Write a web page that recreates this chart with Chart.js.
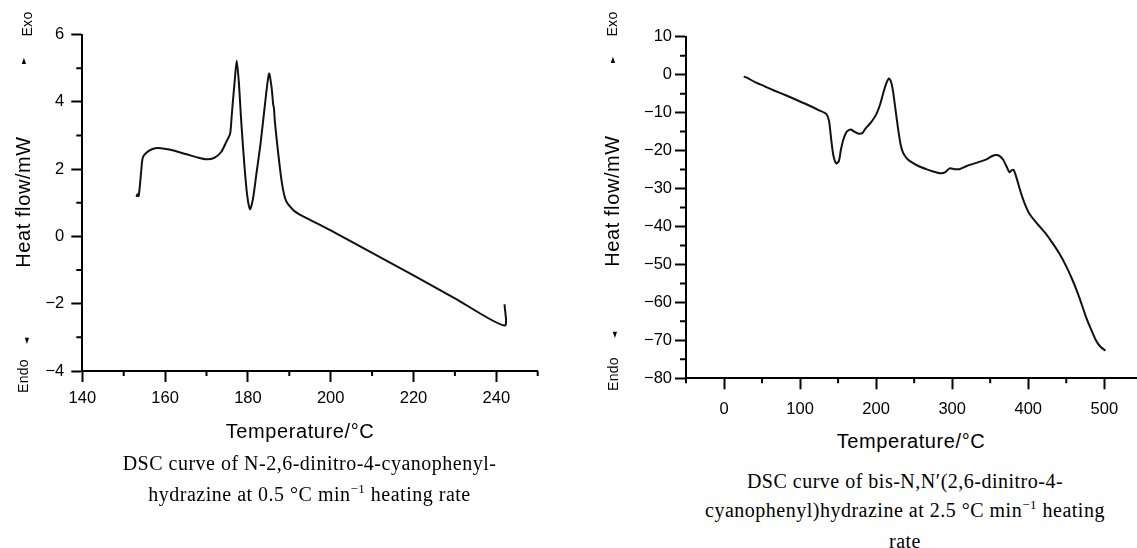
<!DOCTYPE html>
<html>
<head>
<meta charset="utf-8">
<script src="https://cdn.jsdelivr.net/npm/chart.js@4.4.0/dist/chart.umd.min.js"></script>
<style>
  body { margin: 0; background: #fff; overflow: hidden; }
  #page { position: relative; width: 1137px; height: 548px; font-family: "Liberation Sans", Arial, sans-serif; color: #000; }
  canvas { position: absolute; top: 0; }
  #cvLeft { left: 0; }
  #cvRight { left: 580px; }
  .title { position: absolute; font-size: 20px; line-height: 20px; letter-spacing: 0.6px; white-space: nowrap; }
  .small { position: absolute; font-size: 14px; line-height: 14px; letter-spacing: 0.3px; white-space: nowrap; }
  .rot { transform: translate(-50%, -50%) rotate(-90deg); }
  .htitle { transform: translateX(-50%); }
  .tri { position: absolute; font-family: "DejaVu Sans", sans-serif; font-size: 8px; line-height: 8px; transform: translate(-50%, -50%) scaleX(0.7); }
  .caption { position: absolute; font-family: "Liberation Serif", "Times New Roman", serif; font-size: 20px; text-align: center; letter-spacing: 0.5px; white-space: nowrap; }
  .sup { font-size: 13px; position: relative; top: -8px; }
</style>
</head>
<body>
<div id="page">
  <canvas id="cvLeft" width="560" height="430"></canvas>
  <canvas id="cvRight" width="557" height="430"></canvas>

  <!-- left panel texts -->
  <div class="title rot" style="left:22.5px; top:202px;">Heat flow/mW</div>
  <div class="small rot" style="left:27px; top:24px;">Exo</div>
  <div class="tri" style="left:24px; top:61px;">&#9650;</div>
  <div class="small rot" style="left:23px; top:376px;">Endo</div>
  <div class="tri" style="left:27px; top:341px;">&#9660;</div>
  <div class="title htitle" style="left:300px; top:421px;">Temperature/°C</div>
  <div class="caption" style="left:99.5px; width:420px; top:448px; line-height:31px;">
    DSC curve of N-2,6-dinitro-4-cyanophenyl-<br>hydrazine at 0.5 °C min<span class="sup">−1</span> heating rate
  </div>

  <!-- right panel texts -->
  <div class="title rot" style="left:611.7px; top:201px;">Heat flow/mW</div>
  <div class="small rot" style="left:611.7px; top:24px;">Exo</div>
  <div class="tri" style="left:613px; top:60px;">&#9650;</div>
  <div class="small rot" style="left:613px; top:374px;">Endo</div>
  <div class="tri" style="left:615px; top:335px;">&#9660;</div>
  <div class="title htitle" style="left:911px; top:431px;">Temperature/°C</div>
  <div class="caption" style="left:675px; width:460px; top:466.7px; line-height:29px;">
    DSC curve of bis-N,N′(2,6-dinitro-4-<br>cyanophenyl)hydrazine at 2.5 °C min<span class="sup">−1</span> heating<br>rate
  </div>
</div>

<script>
// ===== DATA: left panel (0.5 °C/min) =====
const tempLeft = [153.1, 153.3, 153.6, 153.9, 154.2, 154.6, 155.4, 156.8, 158.4, 161, 165.2, 168, 170,
  171.8, 173.5, 174.9, 175.7, 176.1, 176.3, 176.8, 177.3, 177.8, 178.4, 179.1, 179.8, 180.5, 181.2,
  182.1, 183.1, 184.1, 185.1, 185.7, 186.1, 186.3, 186.5, 187.2, 188.2, 189.2, 191, 193, 200, 210,
  220, 230, 242, 242];
const flowLeft = [1.17, 1.25, 1.2, 1.5, 1.9, 2.34, 2.48, 2.59, 2.63, 2.58, 2.44, 2.34, 2.29,
  2.33, 2.5, 2.84, 3.05, 3.6, 3.9, 4.6, 5.22, 4.6, 3.4, 2.2, 1.25, 0.81, 1.1,
  1.9, 2.8, 3.9, 4.84, 4.45, 3.93, 3.8, 3.43, 2.6, 1.6, 1.06, 0.78, 0.62, 0.18, -0.49,
  -1.16, -1.84, -2.65, -2.02];
const xMajorLeft = [140, 160, 180, 200, 220, 240];
const xMinorLeft = [150, 170, 190, 210, 230, 250];
const yMajorLeft = [-4, -2, 0, 2, 4, 6];
const yMinorLeft = [-3, -1, 1, 3, 5];

// ===== DATA: right panel (2.5 °C/min) =====
const tempRight = [25.9, 30, 40, 51.3, 65, 82, 97, 112.6, 125, 134.5, 138, 141.1, 144, 147.7, 151.1,
  153.5, 156.4, 160.8, 164, 167.4, 172, 176.1, 181.8, 186, 191.5, 196, 200.3, 205, 209, 213, 216.8,
  219.5, 222.1, 225, 228.6, 232, 235.2, 240, 244, 255, 265.9, 275, 285, 291, 296.6, 303, 309.7, 320,
  333.8, 345, 352, 358, 362, 366.6, 371, 375.4, 378, 380.7, 384, 390.8, 396, 401.7, 412, 423.6, 432,
  441.1, 450, 458.6, 467, 476.2, 482, 489.3, 495, 501.6];
const flowRight = [-0.5, -0.8, -1.9, -2.9, -4.1, -5.5, -6.8, -8.2, -9.4, -10.4, -12.1, -17.4, -21.5, -23.4, -22.7,
  -20, -17.4, -15.2, -14.6, -14.5, -15.1, -15.5, -15.4, -14.2, -13, -11.8, -10.4, -8, -5.1, -2.5, -1.0,
  -1.8, -4.2, -8.5, -13.9, -18.2, -20.5, -22, -22.7, -24, -24.9, -25.5, -26, -25.7, -24.7, -24.9, -24.9, -24,
  -23.1, -22.3, -21.5, -21.2, -21.4, -22.3, -24, -25.7, -25.2, -25.1, -26.8, -31.4, -34.3, -36.7, -39.3, -42.0, -44.4,
  -47.2, -50.5, -54.3, -58.6, -64.0, -66.8, -70.1, -71.7, -72.7];
const xMajorRight = [0, 100, 200, 300, 400, 500];
const xMinorRight = [-50, 50, 150, 250, 350, 450];
const yMajorRight = [-80, -70, -60, -50, -40, -30, -20, -10, 0, 10];
const yMinorRight = [-75, -65, -55, -45, -35, -25, -15, -5, 5];

// ===== minor ticks (shorter, unlabeled) =====
const minorTicks = {
  id: "minorTicks",
  afterDraw(chart, args, opts) {
    const { ctx, chartArea, scales } = chart;
    ctx.save();
    ctx.strokeStyle = "#000";
    ctx.lineWidth = 2;
    ctx.beginPath();
    opts.x.forEach((v) => {
      const px = scales.x.getPixelForValue(v);
      ctx.moveTo(px, chartArea.bottom);
      ctx.lineTo(px, chartArea.bottom + opts.lenX);
    });
    opts.y.forEach((v) => {
      const py = scales.y.getPixelForValue(v);
      ctx.moveTo(chartArea.left, py);
      ctx.lineTo(chartArea.left - opts.lenY, py);
    });
    ctx.stroke();
    ctx.restore();
  },
};

const minusSign = (v) => String(v).replace("-", "\u2212");
const tickFont = { family: "Liberation Sans", size: 16.5 };

function makeChart(id, temps, flows, c) {
  const pts = temps.map((t, i) => ({ x: t, y: flows[i] }));
  return new Chart(document.getElementById(id), {
    type: "line",
    data: {
      datasets: [{
        data: pts,
        borderColor: "#111",
        borderWidth: 2,
        pointRadius: 0,
        tension: 0.25,
        fill: false,
      }],
    },
    options: {
      responsive: false,
      animation: false,
      devicePixelRatio: 1,
      layout: { padding: c.padding },
      plugins: {
        legend: { display: false },
        tooltip: { enabled: false },
        minorTicks: { x: c.xMinor, y: c.yMinor, lenX: 5, lenY: 6 },
      },
      scales: {
        x: {
          type: "linear",
          min: c.xMin,
          max: c.xMax,
          afterBuildTicks: (s) => { s.ticks = c.xMajor.map((v) => ({ value: v })); },
          afterFit: (s) => { s.height = c.xHeight; },
          grid: { drawOnChartArea: false, drawTicks: true, tickLength: 11, tickWidth: 2, tickColor: "#000" },
          border: { display: true, color: "#000", width: 2 },
          ticks: { color: "#000", font: tickFont, padding: c.xPad, maxRotation: 0, callback: minusSign },
        },
        y: {
          type: "linear",
          min: c.yMin,
          max: c.yMax,
          afterBuildTicks: (s) => { s.ticks = c.yMajor.map((v) => ({ value: v })); },
          afterFit: (s) => { s.width = c.yWidth; },
          grid: { drawOnChartArea: false, drawTicks: true, tickLength: 11, tickWidth: 2, tickColor: "#000" },
          border: { display: true, color: "#000", width: 2 },
          ticks: { color: "#000", font: tickFont, padding: c.yPad, callback: minusSign },
        },
      },
    },
    plugins: [minorTicks],
  });
}

window.addEventListener("load", () => {
  makeChart("cvLeft", tempLeft, flowLeft, {
    xMin: 140, xMax: 250, yMin: -4, yMax: 6,
    xMajor: xMajorLeft, xMinor: xMinorLeft, yMajor: yMajorLeft, yMinor: yMinorLeft,
    padding: { left: 0, top: 34.5, right: 22.3, bottom: 0 },
    yWidth: 82.3, xHeight: 59, xPad: 7, yPad: 7,
  });
  makeChart("cvRight", tempRight, flowRight, {
    xMin: -50, xMax: 543, yMin: -80, yMax: 10,
    xMajor: xMajorRight, xMinor: xMinorRight, yMajor: yMajorRight, yMinor: yMinorRight,
    padding: { left: 0, top: 36.7, right: 0, bottom: 0 },
    yWidth: 106, xHeight: 51.7, xPad: 10, yPad: 3,
  });
});
</script>
</body>
</html>
